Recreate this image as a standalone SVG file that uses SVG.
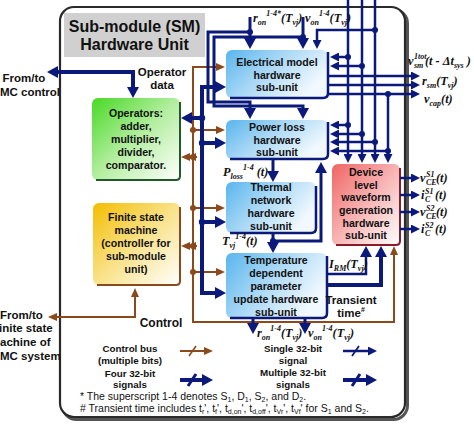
<svg xmlns="http://www.w3.org/2000/svg" width="474" height="436" viewBox="0 0 474 436">
<defs>
<linearGradient id="gBlue" x1="0" y1="0" x2="1" y2="0.5"><stop offset="0" stop-color="#58b5ee"/><stop offset="0.45" stop-color="#a3d5f5"/><stop offset="1" stop-color="#f2f9fe"/></linearGradient>
<linearGradient id="gGreen" x1="0" y1="0" x2="1" y2="1"><stop offset="0" stop-color="#48d926"/><stop offset="0.5" stop-color="#b4eea0"/><stop offset="1" stop-color="#ffffff"/></linearGradient>
<linearGradient id="gYel" x1="0" y1="0" x2="1" y2="1"><stop offset="0" stop-color="#f4bd00"/><stop offset="0.5" stop-color="#f9e28a"/><stop offset="1" stop-color="#ffffff"/></linearGradient>
<linearGradient id="gRed" x1="0" y1="0" x2="1" y2="1"><stop offset="0" stop-color="#f06464"/><stop offset="0.5" stop-color="#f8b4b4"/><stop offset="1" stop-color="#ffffff"/></linearGradient>
<marker id="ah" viewBox="0 0 9 9" refX="2" refY="4.5" markerWidth="9" markerHeight="9" orient="auto-start-reverse" markerUnits="userSpaceOnUse"><path d="M0,0 L9,4.5 L0,9 z" fill="#0b1a7a"/></marker>
<marker id="aH" viewBox="0 0 11 12" refX="2" refY="6" markerWidth="11" markerHeight="12" orient="auto-start-reverse" markerUnits="userSpaceOnUse"><path d="M0,0 L11,6 L0,12 z" fill="#0b1a7a"/></marker>
<marker id="ab" viewBox="0 0 9 8" refX="2" refY="4" markerWidth="9" markerHeight="8" orient="auto-start-reverse" markerUnits="userSpaceOnUse"><path d="M0,0 L9,4 L0,8 z" fill="#8b4a1c"/></marker>
</defs>
<style>
.t{font-family:"Liberation Sans",Arial,sans-serif;font-weight:bold;fill:#111;text-anchor:middle}
.nt{font-size:10.6px}
.lt{font-size:11.5px}
.lg{font-size:9.8px}
.fn{font-family:"Liberation Sans",Arial,sans-serif;font-size:10.5px;fill:#111}
.m{font-family:"Liberation Serif","Times New Roman",serif;font-weight:bold;font-style:italic;font-size:12.3px;fill:#111}
.s{font-size:8px}
.nv{fill:none;stroke:#0b1a7a;stroke-width:2.5}
.nk{stroke-width:4}
.n3{stroke-width:3}
.br{fill:none;stroke:#8b4a1c;stroke-width:2}
.dn{fill:#0b1a7a}
.db{fill:#8b4a1c}
.bx{stroke:none}
</style>
<rect width="474" height="436" fill="#ffffff"/>
<g id="frame">
<rect x="62.5" y="9.5" width="345" height="410" rx="14" fill="none" stroke="#555" stroke-width="3"/>
<rect x="60" y="7" width="345" height="410" rx="14" fill="#ffffff" stroke="#2a2a2a" stroke-width="2.2"/>
<rect x="64" y="13" width="141" height="44" fill="#d0d0d0"/>
<text class="t" x="134.5" y="32" font-size="16">Sub-module (SM)</text>
<text class="t" x="134.5" y="50" font-size="16">Hardware Unit</text>
</g>
<g id="external-labels">
<text class="t lt" x="24" y="82">From/to</text>
<text class="t lt" x="0" y="96" style="text-anchor:start">MC control</text>
<text class="t lt" x="0" y="319" style="text-anchor:start">From/to</text>
<text class="t lt" x="-1" y="332" style="text-anchor:start">inite state</text>
<text class="t lt" x="0" y="346" style="text-anchor:start">achine of</text>
<text class="t lt" x="0" y="360" style="text-anchor:start">MC system</text>
<text class="t lt" x="162" y="76">Operator</text>
<text class="t lt" x="162" y="89">data</text>
<text class="t" x="161" y="327" font-size="12">Control</text>
</g>
<g id="operators">
<rect class="bx" x="92" y="98" width="88" height="82" rx="6" fill="url(#gGreen)"/>
<path d="M96,180 L176,180 Q180,180 180,176 L180,102" fill="none" stroke="#215a2a" stroke-width="2"/>
<text class="t nt" x="136" y="117">Operators:</text>
<text class="t nt" x="136" y="130">adder,</text>
<text class="t nt" x="136" y="143">multiplier,</text>
<text class="t nt" x="136" y="156">divider,</text>
<text class="t nt" x="136" y="169">comparator.</text>
</g>
<g id="fsm">
<rect class="bx" x="93" y="203" width="87" height="82" rx="6" fill="url(#gYel)"/>
<path d="M97,285 L176,285 Q180,285 180,281 L180,207" fill="none" stroke="#8b4a1c" stroke-width="2"/>
<text class="t nt" x="136" y="221">Finite state</text>
<text class="t nt" x="136" y="234">machine</text>
<text class="t nt" x="136" y="247">(controller for</text>
<text class="t nt" x="136" y="260">sub-module</text>
<text class="t nt" x="136" y="273">unit)</text>
</g>
<g id="electrical-model">
<rect class="bx" x="226" y="50" width="102" height="48" rx="6" fill="url(#gBlue)"/>
<path class="nv" d="M230,98 L323,98 Q328,98 328,93 L328,52"/>
<text class="t nt" x="277" y="66">Electrical model</text>
<text class="t nt" x="277" y="78.5">hardware</text>
<text class="t nt" x="277" y="91">sub-unit</text>
</g>
<g id="power-loss">
<rect class="bx" x="226" y="120" width="102" height="39" rx="6" fill="url(#gBlue)"/>
<path class="nv" d="M230,159 L323,159 Q328,159 328,154 L328,122"/>
<text class="t nt" x="277" y="131">Power loss</text>
<text class="t nt" x="277" y="144">hardware</text>
<text class="t nt" x="277" y="156">sub-unit</text>
</g>
<g id="thermal-network">
<rect class="bx" x="226" y="182" width="90" height="51" rx="6" fill="url(#gBlue)"/>
<path class="nv" d="M230,233 L311,233 Q316,233 316,228 L316,186"/>
<text class="t nt" x="271" y="191">Thermal</text>
<text class="t nt" x="271" y="204">network</text>
<text class="t nt" x="271" y="217">hardware</text>
<text class="t nt" x="271" y="230">sub-unit</text>
</g>
<g id="temperature-dependent">
<rect class="bx" x="226" y="253" width="101" height="65" rx="6" fill="url(#gBlue)"/>
<path class="nv" d="M230,318 L322,318 Q327,318 327,313 L327,256"/>
<text class="t nt" x="276" y="264">Temperature</text>
<text class="t nt" x="276" y="277">dependent</text>
<text class="t nt" x="276" y="290">parameter</text>
<text class="t nt" x="276" y="303">update hardware</text>
<text class="t nt" x="276" y="316">sub-unit</text>
</g>
<g id="device-level-waveform">
<rect class="bx" x="332" y="164" width="68" height="81" rx="6" fill="url(#gRed)"/>
<path d="M336,245 L396,245 Q400,245 400,241 L400,168" fill="none" stroke="#8b1a2a" stroke-width="2"/>
<text class="t nt" x="366" y="176">Device</text>
<text class="t nt" x="366" y="188.5">level</text>
<text class="t nt" x="366" y="201">waveform</text>
<text class="t nt" x="366" y="214">generation</text>
<text class="t nt" x="366" y="226.5">hardware</text>
<text class="t nt" x="366" y="239">sub-unit</text>
</g>
<g id="connectors">
<path class="nv nk" d="M56,72 L133,72 L133,89" marker-start="url(#aH)" marker-end="url(#aH)"/>
<path class="br" d="M55,317 L135,317 L135,295" marker-start="url(#ab)" marker-end="url(#ab)"/>
<path class="br" d="M218,67 L193,67 L193,322 L394,322 L394,253" marker-start="url(#ab)" marker-end="url(#ab)"/>
<path class="br" d="M193,130 L218,130" marker-end="url(#ab)"/>
<path class="br" d="M193,208 L218,208" marker-end="url(#ab)"/>
<path class="br" d="M193,272 L218,272" marker-end="url(#ab)"/>
<path class="br" d="M197,157 L194,157 L188,157" marker-mid="url(#ab)" marker-end="url(#ab)"/>
<path class="br" d="M197,246 L194,246 L188,246" marker-mid="url(#ab)" marker-end="url(#ab)"/>
<path class="nv nk" d="M217,87 L202,87 L202,293 L217,293" marker-start="url(#aH)" marker-end="url(#aH)"/>
<path class="nv nk" d="M202,143 L217,143" marker-end="url(#aH)"/>
<path class="nv nk" d="M202,222 L217,222" marker-end="url(#aH)"/>
<path class="nv nk" d="M202,118 L190,118" marker-end="url(#aH)"/>
<path class="nv n3" d="M250,17 L250,40" marker-end="url(#aH)"/>
<path class="nv n3" d="M250,32 L208,32 L208,102 L250,102 L250,110" marker-end="url(#aH)"/>
<path class="nv n3" d="M303,17 L303,40" marker-end="url(#aH)"/>
<path class="nv n3" d="M303,37 L214,37 L214,106 L303,106 L303,110" marker-end="url(#aH)"/>
<path class="nv" d="M375,30 L317,30 L317,42" marker-end="url(#ah)"/>
<path class="nv" d="M348,0 L348,156" marker-end="url(#ah)"/>
<path class="nv" d="M362,0 L362,156" marker-end="url(#ah)"/>
<path class="nv" d="M375,0 L375,156" marker-end="url(#ah)"/>
<path class="nv" d="M388,94 L388,156" marker-end="url(#ah)"/>
<path class="nv" d="M348,57 L337,57" marker-end="url(#ah)"/>
<path class="nv" d="M362,66 L337,66" marker-end="url(#ah)"/>
<path class="nv" d="M348,125 L337,125" marker-end="url(#ah)"/>
<path class="nv" d="M362,134 L337,134" marker-end="url(#ah)"/>
<path class="nv" d="M375,142 L337,142" marker-end="url(#ah)"/>
<path class="nv" d="M388,151 L337,151" marker-end="url(#ah)"/>
<path class="nv" d="M328,76 L413,76" marker-end="url(#ah)"/>
<path class="nv" d="M328,85 L413,85" marker-end="url(#ah)"/>
<path class="nv" d="M328,94 L413,94" marker-end="url(#ah)"/>
<path class="nv n3" d="M273,159 L273,173" marker-end="url(#aH)"/>
<path class="nv n3" d="M273,233 L273,244" marker-end="url(#aH)"/>
<path class="nv n3" d="M273,241 L321,241 L321,171" marker-end="url(#aH)"/>
<path class="nv" d="M327,274 L366,274 L366,255" marker-end="url(#aH)"/>
<path class="nv nk" d="M327,285 L381,285 L381,255" marker-end="url(#aH)"/>
<path class="nv n3" d="M253,318 L253,325" marker-end="url(#aH)"/>
<path class="nv n3" d="M305,318 L305,325" marker-end="url(#aH)"/>
<path class="nv" d="M400,178 L413,178" marker-end="url(#ah)"/>
<path class="nv" d="M400,195 L413,195" marker-end="url(#ah)"/>
<path class="nv" d="M400,212 L413,212" marker-end="url(#ah)"/>
<path class="nv" d="M400,229 L413,229" marker-end="url(#ah)"/>
<g class="dn">
<circle cx="250" cy="32" r="3"/><circle cx="303" cy="37" r="3"/><circle cx="375" cy="30" r="3"/>
<circle cx="348" cy="57" r="3"/><circle cx="362" cy="66" r="3"/><circle cx="388" cy="94" r="3"/>
<circle cx="348" cy="125" r="3"/><circle cx="362" cy="134" r="3"/><circle cx="375" cy="142" r="3"/><circle cx="388" cy="151" r="3"/>
<circle cx="202" cy="118" r="3.2"/><circle cx="202" cy="143" r="3.2"/><circle cx="202" cy="222" r="3.2"/>
<circle cx="273" cy="241" r="3"/>
</g>
<g class="db">
<circle cx="193" cy="130" r="3"/><circle cx="193" cy="157" r="3"/><circle cx="193" cy="208" r="3"/><circle cx="193" cy="246" r="3"/><circle cx="193" cy="272" r="3"/>
</g>
</g>
<g id="signal-labels">
<text class="m" x="253" y="22">r<tspan class="s" dy="3">on</tspan><tspan class="s" dy="-9">1-4*</tspan><tspan dy="6">(T</tspan><tspan class="s" dy="3">vj</tspan><tspan dy="-3">)</tspan></text>
<text class="m" x="305" y="22">v<tspan class="s" dy="3">on</tspan><tspan class="s" dy="-9">1-4</tspan><tspan dy="6">(T</tspan><tspan class="s" dy="3">vj</tspan><tspan dy="-3">)</tspan></text>
<text class="m" x="408" y="65">v<tspan class="s" x="414" dy="-6">1tot</tspan><tspan class="s" x="414" dy="9">sm</tspan><tspan x="425" dy="-3">(t - Δt</tspan><tspan class="s" dy="3">sys</tspan><tspan dy="-3"> )</tspan></text>
<text class="m" x="422" y="85">r<tspan class="s" dy="2.5">sm</tspan><tspan dy="-2.5">(T</tspan><tspan class="s" dy="2.5">vj</tspan><tspan dy="-2.5">)</tspan></text>
<text class="m" x="424" y="103">v<tspan class="s" dy="3">cap</tspan><tspan dy="-3">(t)</tspan></text>
<text class="m" x="223" y="176">P<tspan class="s" dy="3">loss</tspan><tspan class="s" dy="-9">1-4</tspan><tspan dy="6"> (t)</tspan></text>
<text class="m" x="222" y="245">T<tspan class="s" dy="3">vj</tspan><tspan class="s" dy="-9">1-4</tspan><tspan dy="6">(t)</tspan></text>
<text class="m" x="329" y="268">I<tspan class="s" dy="3">RM</tspan><tspan dy="-3">(T</tspan><tspan class="s" dy="3">vj</tspan><tspan dy="-3">)</tspan></text>
<text class="t lt" x="351" y="304">Transient</text>
<text class="t lt" x="351" y="317">time<tspan font-size="7" dy="-5">#</tspan></text>
<text class="m" x="257" y="337">r<tspan class="s" dy="3">on</tspan><tspan class="s" dy="-9">1-4</tspan><tspan dy="6">(T</tspan><tspan class="s" dy="3">vj</tspan><tspan dy="-3">)</tspan></text>
<text class="m" x="308" y="337">v<tspan class="s" dy="3">on</tspan><tspan class="s" dy="-9">1-4</tspan><tspan dy="6">(T</tspan><tspan class="s" dy="3">vj</tspan><tspan dy="-3">)</tspan></text>
<text class="m" x="420" y="182">v<tspan class="s" x="426" dy="-5">S1</tspan><tspan class="s" x="426" dy="8">CE</tspan><tspan x="436" dy="-3">(t)</tspan></text>
<text class="m" x="421" y="199">i<tspan class="s" x="425" dy="-5">S1</tspan><tspan class="s" x="425" dy="8">C</tspan><tspan x="435" dy="-3">(t)</tspan></text>
<text class="m" x="420" y="216">v<tspan class="s" x="426" dy="-5">S2</tspan><tspan class="s" x="426" dy="8">CE</tspan><tspan x="436" dy="-3">(t)</tspan></text>
<text class="m" x="421" y="233">i<tspan class="s" x="425" dy="-5">S2</tspan><tspan class="s" x="425" dy="8">C</tspan><tspan x="435" dy="-3">(t)</tspan></text>
</g>
<g id="legend">
<text class="t lg" x="130" y="351.5">Control bus</text>
<text class="t lg" x="130" y="363.5">(multiple bits)</text>
<text class="t lg" x="130" y="376.5">Four 32-bit</text>
<text class="t lg" x="130" y="388">signals</text>
<text class="t lg" x="293" y="351.5">Single 32-bit</text>
<text class="t lg" x="293" y="363.5">signal</text>
<text class="t lg" x="293" y="375.5">Multiple 32-bit</text>
<text class="t lg" x="293" y="387.5">signals</text>
<path class="br" d="M180,351 L206,351" marker-end="url(#ab)"/>
<path d="M189,356 L196,346" stroke="#8b4a1c" stroke-width="1.6"/>
<path class="nv nk" d="M180,380 L204,380" marker-end="url(#aH)"/>
<path d="M188,386 L196,374" stroke="#0b1a7a" stroke-width="3"/>
<path class="nv" stroke-width="2" d="M343,351 L370,351" marker-end="url(#ah)"/>
<path d="M352,356 L359,346" stroke="#0b1a7a" stroke-width="1.8"/>
<path class="nv nk" d="M343,380 L368,380" marker-end="url(#aH)"/>
<path d="M352,386 L360,374" stroke="#0b1a7a" stroke-width="3"/>
<text class="fn" x="80" y="400">* The superscript 1-4 denotes S<tspan font-size="7" dy="2">1</tspan><tspan dy="-2">, D</tspan><tspan font-size="7" dy="2">1</tspan><tspan dy="-2">, S</tspan><tspan font-size="7" dy="2">2</tspan><tspan dy="-2">, and D</tspan><tspan font-size="7" dy="2">2</tspan><tspan dy="-2">.</tspan></text>
<text class="fn" x="80" y="412"># Transient time includes t<tspan font-size="7" dy="2">r</tspan><tspan dy="-2">', t</tspan><tspan font-size="7" dy="2">f</tspan><tspan dy="-2">', t</tspan><tspan font-size="7" dy="2">d,on</tspan><tspan dy="-2">', t</tspan><tspan font-size="7" dy="2">d,off</tspan><tspan dy="-2">', t</tspan><tspan font-size="7" dy="2">Vr</tspan><tspan dy="-2">', t</tspan><tspan font-size="7" dy="2">Vf</tspan><tspan dy="-2">' for S</tspan><tspan font-size="7" dy="2">1</tspan><tspan dy="-2"> and S</tspan><tspan font-size="7" dy="2">2</tspan><tspan dy="-2">.</tspan></text>
</g>
</svg>
